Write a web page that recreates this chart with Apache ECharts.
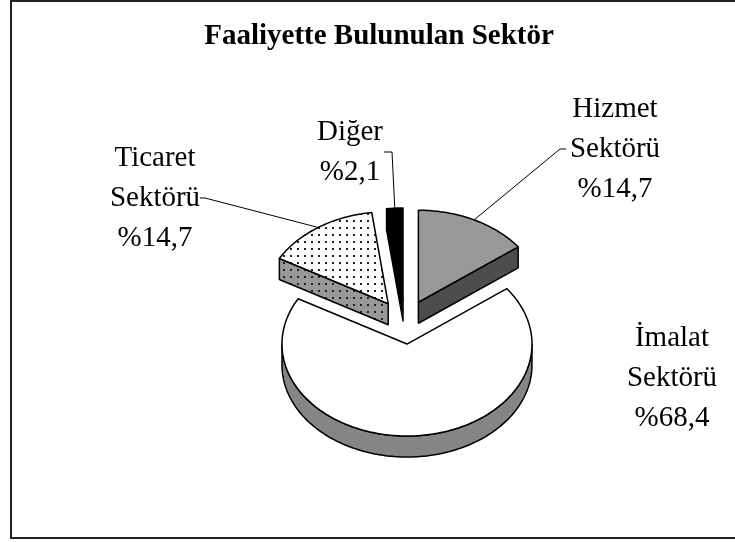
<!DOCTYPE html>
<html>
<head>
<meta charset="utf-8">
<script src="https://cdn.jsdelivr.net/npm/echarts@6/dist/echarts.min.js"></script>
<style>
html,body{margin:0;padding:0;background:#fff;}
#chart{width:735px;height:542px;}
</style>
</head>
<body>
<div id="chart"></div>
<script>
// ---- data ----
const titleText = 'Faaliyette Bulunulan Sektör';
const categories = ['Hizmet Sektörü', 'İmalat Sektörü', 'Ticaret Sektörü', 'Diğer'];
const labelNames = ['Hizmet\nSektörü', 'İmalat\nSektörü', 'Ticaret\nSektörü', 'Diğer'];
const values = [14.7, 68.4, 14.7, 2.1];

// ---- layout / style (not data) ----
const geo = { cx: 405, cy: 322, rx: 125, ry: 92, h: 21, explode: 0.24 };
const labelPos = [[615, 149], [672, 378], [155, 198], [350, 152]];
const leaderEnds = [
  [[560, 149], [566, 149]],
  null,
  [[205, 198], [200, 198]],
  [[392, 152], [384, 152]]
];
const FONT = '"Liberation Serif", "Times New Roman", serif';

function dotPattern(bg) {
  const c = document.createElement('canvas');
  c.width = 7; c.height = 7;
  const g = c.getContext('2d');
  g.fillStyle = bg; g.fillRect(0, 0, 7, 7);
  g.fillStyle = '#222'; g.fillRect(3, 3, 2, 2);
  return { image: c, repeat: 'repeat' };
}
const topFill = ['#999999', '#ffffff', dotPattern('#ffffff'), '#000000'];
const sideFill = ['#4d4d4d', '#858585', dotPattern('#999999'), '#000000'];

const total = values.reduce((s, v) => s + v, 0);
const starts = [];
{ let acc = 0; values.forEach(v => { starts.push(acc / total * Math.PI * 2); acc += v; }); }

function fmt(v) { return '%' + String(v).replace('.', ','); }

function renderItem(params, api) {
  const i = params.dataIndex;
  const v = api.value(0);
  const a = starts[i];
  const b = a + v / total * Math.PI * 2;
  const mid = (a + b) / 2;
  const ax = geo.cx + geo.explode * geo.rx * Math.sin(mid);
  const ay = geo.cy - geo.explode * geo.ry * Math.cos(mid);
  const P = (t, dz) => [ax + geo.rx * Math.sin(t), ay - geo.ry * Math.cos(t) + (dz || 0)];
  const arc = (t0, t1, dz) => {
    const n = Math.max(2, Math.ceil((t1 - t0) / (Math.PI / 180)));
    const pts = [];
    for (let k = 0; k <= n; k++) pts.push(P(t0 + (t1 - t0) * k / n, dz));
    return pts;
  };
  const base = Math.round((1 - Math.cos(mid)) * 10) * 3;
  const stroke = { stroke: '#000', lineWidth: 1.5, lineJoin: 'round' };
  const children = [];
  const r0 = Math.max(a, Math.PI / 2), r1 = Math.min(b, Math.PI * 1.5);
  if (r1 > r0) {
    const pts = arc(r0, r1, 0).concat(arc(r0, r1, geo.h).reverse());
    children.push({ type: 'polygon', z2: base, shape: { points: pts }, style: Object.assign({ fill: sideFill[i] }, stroke) });
  }
  const h = geo.h;
  if (Math.sin(a) < -1e-6) {
    const p = P(a);
    children.push({ type: 'polygon', z2: base, shape: { points: [[ax, ay], p, [p[0], p[1] + h], [ax, ay + h]] }, style: Object.assign({ fill: sideFill[i] }, stroke) });
  }
  if (Math.sin(b) > 1e-6) {
    const p = P(b);
    children.push({ type: 'polygon', z2: base, shape: { points: [[ax, ay], p, [p[0], p[1] + h], [ax, ay + h]] }, style: Object.assign({ fill: sideFill[i] }, stroke) });
  }
  children.push({ type: 'polygon', z2: base + 1, shape: { points: [[ax, ay]].concat(arc(a, b, 0)) }, style: Object.assign({ fill: topFill[i] }, stroke) });
  if (leaderEnds[i]) {
    children.push({ type: 'polyline', z2: 100, shape: { points: [P(mid)].concat(leaderEnds[i]) }, style: { stroke: '#000', lineWidth: 1, fill: null } });
  }
  children.push({
    type: 'text', z2: 100, x: labelPos[i][0], y: labelPos[i][1],
    style: {
      text: labelNames[i] + '\n' + fmt(v), font: '29px ' + FONT, fill: '#000',
      align: 'center', verticalAlign: 'middle', textAlign: 'center', textVerticalAlign: 'middle', lineHeight: 40
    }
  });
  return { type: 'group', children };
}

const chart = echarts.init(document.getElementById('chart'), null, { renderer: 'canvas' });
chart.setOption({
  animation: false,
  backgroundColor: '#ffffff',
  graphic: [
    { type: 'rect', shape: { x: 11, y: 1, width: 740, height: 537 }, style: { fill: 'none', stroke: '#222', lineWidth: 2 } },
    { type: 'text', x: 379, y: 37, style: { text: titleText, font: 'bold 29px ' + FONT, fill: '#000', align: 'center', verticalAlign: 'middle' } }
  ],
  series: [{
    type: 'custom',
    coordinateSystem: 'none',
    name: 'Faaliyette Bulunulan Sektör',
    renderItem: renderItem,
    data: values.map((v, i) => ({ name: categories[i], value: [v] }))
  }]
});
</script>
</body>
</html>
